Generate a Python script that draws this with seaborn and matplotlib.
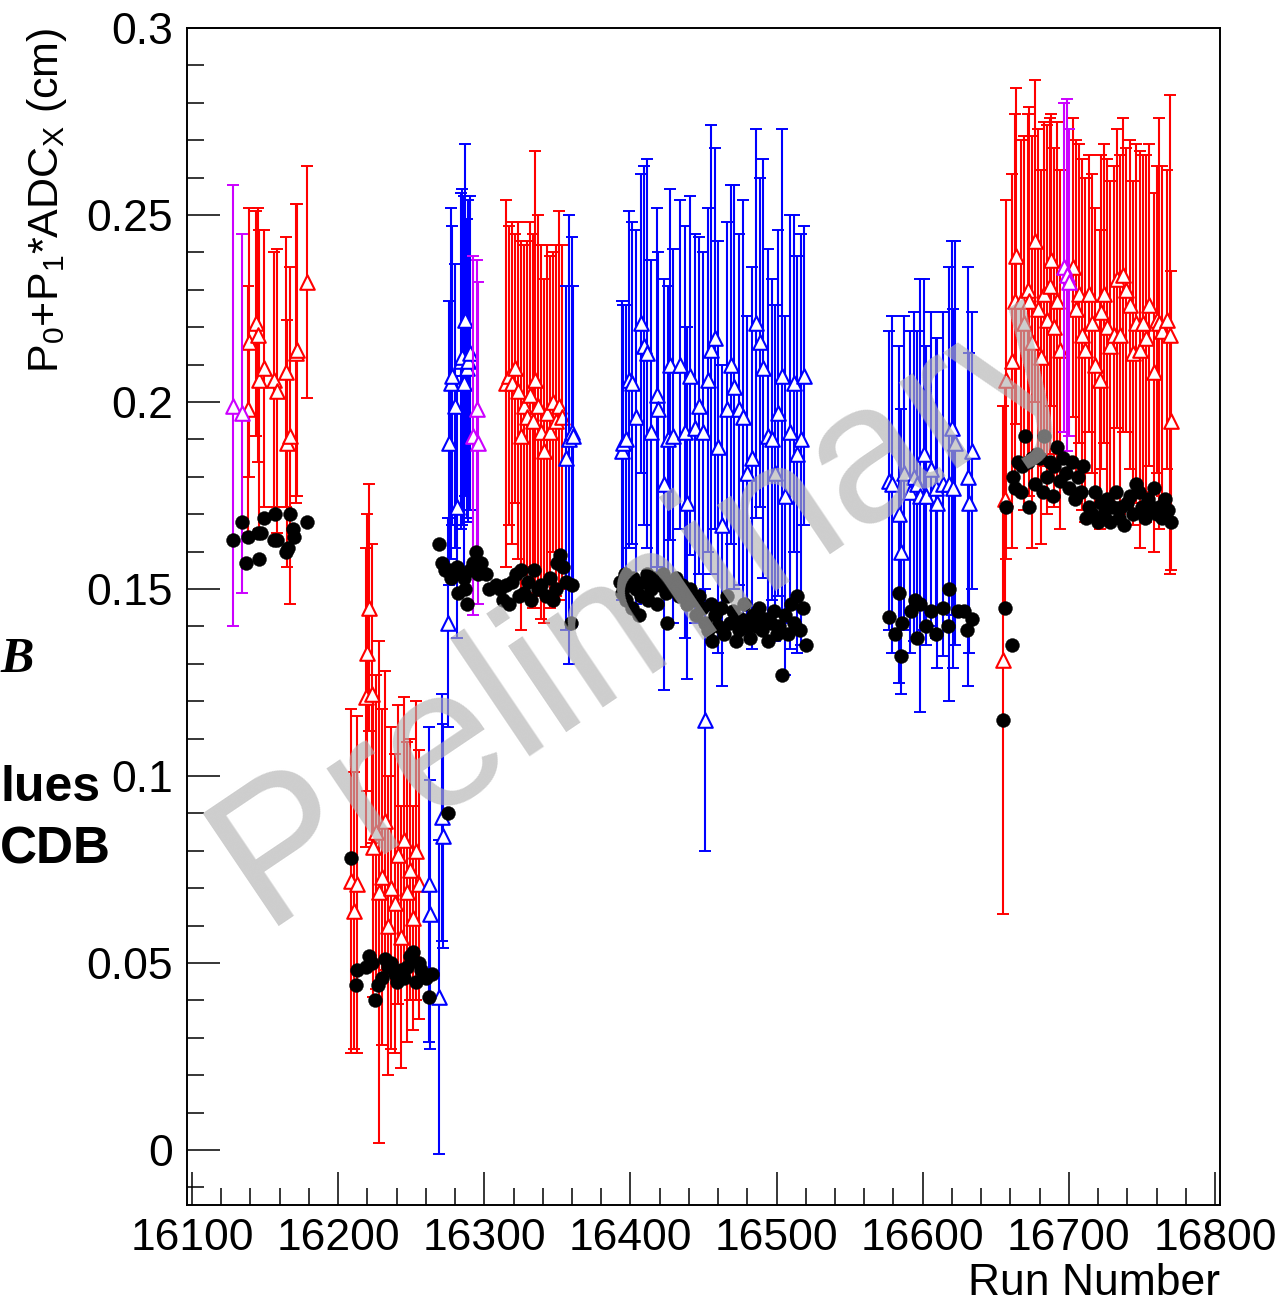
import numpy as np
import pandas as pd
import matplotlib
matplotlib.use("Agg")
import matplotlib.pyplot as plt
import seaborn as sns
from matplotlib.ticker import MultipleLocator, FuncFormatter

# ---------------- data ----------------
# period 1
p1_runs = [16128, 16134, 16138, 16139, 16144, 16145, 16146, 16149, 16156, 16158, 16164, 16165, 16167, 16171, 16172, 16179]
p1_meas = [0.199, 0.197, 0.198, 0.216, 0.221, 0.218, 0.206, 0.209, 0.206, 0.203, 0.208, 0.189, 0.191, 0.213, 0.214, 0.232]
p1_err = [0.059, 0.048, 0.033, 0.036, 0.030, 0.034, 0.040, 0.037, 0.034, 0.038, 0.036, 0.033, 0.045, 0.040, 0.039, 0.031]
p1_col = "mmrrrrrrrrrrrrrr"
p1_ccdb_runs = [16128, 16134, 16137, 16138, 16145, 16146, 16147, 16149, 16156, 16157, 16158, 16164, 16166, 16167, 16169, 16170, 16179]
p1_ccdb = [0.163, 0.168, 0.157, 0.164, 0.165, 0.158, 0.165, 0.169, 0.163, 0.170, 0.163, 0.160, 0.161, 0.170, 0.166, 0.164, 0.168]

# period 2
p2_runs = [16209, 16211, 16213, 16219, 16220, 16221, 16223, 16224, 16226, 16228, 16230, 16232, 16234, 16236,
           16239, 16241, 16243, 16245, 16247, 16249, 16251, 16253, 16255, 16262, 16263, 16269, 16271, 16272]
p2_meas = [0.072, 0.064, 0.071, 0.121, 0.133, 0.145, 0.122, 0.081, 0.085, 0.069, 0.073, 0.088, 0.060, 0.070,
           0.066, 0.079, 0.057, 0.083, 0.069, 0.075, 0.062, 0.080, 0.071, 0.071, 0.063, 0.041, 0.089, 0.084]
p2_err = [0.046, 0.037, 0.045, 0.040, 0.037, 0.033, 0.040, 0.040, 0.042, 0.067, 0.045, 0.040, 0.040, 0.043,
          0.040, 0.040, 0.035, 0.038, 0.040, 0.035, 0.030, 0.040, 0.036, 0.042, 0.036, 0.042, 0.033, 0.030]
p2_col = "rrrrrrrrrrrrrrrrrrrrrrrbbbbb"
p2_ccdb_runs = [16209, 16212, 16213, 16219, 16221, 16223, 16225, 16227, 16230, 16232, 16234, 16236, 16239,
                16240, 16243, 16245, 16247, 16249, 16251, 16253, 16255, 16257, 16260, 16262, 16264, 16275]
p2_ccdb = [0.078, 0.044, 0.048, 0.049, 0.052, 0.050, 0.040, 0.044, 0.046, 0.051, 0.049, 0.050, 0.047,
           0.045, 0.048, 0.046, 0.049, 0.052, 0.053, 0.045, 0.050, 0.048, 0.046, 0.041, 0.047, 0.090]

# period 3
p3_runs = [16275, 16276, 16277, 16278, 16280, 16281, 16284, 16285, 16286, 16287, 16288, 16289, 16290,
           16292, 16295, 16296,
           16315, 16317, 16319, 16321, 16323, 16325, 16327, 16329, 16331, 16333, 16335, 16337, 16339, 16341,
           16343, 16345, 16347, 16349, 16351, 16353,
           16356, 16358, 16360, 16361]
p3_meas = [0.141, 0.189, 0.205, 0.207, 0.199, 0.172, 0.211, 0.212, 0.205, 0.222, 0.209, 0.211, 0.213,
           0.191, 0.198, 0.189,
           0.205, 0.207, 0.205, 0.209, 0.203, 0.191, 0.199, 0.196, 0.202, 0.195, 0.206, 0.199, 0.192, 0.187,
           0.197, 0.192, 0.200, 0.195, 0.199, 0.196,
           0.185, 0.190, 0.192, 0.191]
p3_err = [0.028, 0.038, 0.047, 0.040, 0.038, 0.035, 0.045, 0.045, 0.050, 0.047, 0.040, 0.043, 0.042,
          0.048, 0.040, 0.043,
          0.049, 0.040, 0.043, 0.036, 0.045, 0.052, 0.043, 0.047, 0.046, 0.050, 0.061, 0.051, 0.050, 0.046,
          0.045, 0.047, 0.040, 0.047, 0.052, 0.046,
          0.046, 0.060, 0.052, 0.040]
p3_col = "bbbbbbbbbbbbb" "mmm" "rrrrrrrrrrrrrrrrrrrr" "bbbb"
p3_ccdb_runs = [16269, 16271, 16273, 16276, 16277, 16279, 16281, 16282, 16284, 16286, 16287, 16288, 16290,
                16292, 16294, 16296, 16298, 16301, 16303, 16308, 16311, 16313, 16315, 16317, 16319, 16322,
                16324, 16325, 16327, 16330, 16332, 16334, 16337, 16339, 16342, 16345, 16347, 16349, 16350,
                16352, 16354, 16356, 16359, 16360]
p3_ccdb = [0.162, 0.157, 0.155, 0.155, 0.153, 0.155, 0.156, 0.149, 0.154, 0.153, 0.150, 0.146, 0.155,
           0.157, 0.160, 0.154, 0.157, 0.154, 0.150, 0.151, 0.150, 0.147, 0.151, 0.146, 0.152, 0.154,
           0.148, 0.155, 0.149, 0.152, 0.147, 0.155, 0.150, 0.151, 0.148, 0.153, 0.147, 0.150, 0.157,
           0.159, 0.156, 0.152, 0.141, 0.151]

# period 4
p4_runs = [16394, 16395, 16397, 16399, 16401, 16404, 16407, 16409, 16411, 16414,
           16418, 16419, 16423, 16426, 16427, 16429, 16434, 16437, 16439, 16441,
           16444, 16447, 16450, 16451, 16453, 16455, 16458, 16460, 16463, 16466,
           16469, 16471, 16474, 16477, 16480, 16483, 16486, 16489, 16491, 16494,
           16497, 16499, 16501, 16504, 16506, 16509, 16512, 16514, 16517, 16519]
p4_meas = [0.187, 0.189, 0.190, 0.206, 0.205, 0.196, 0.221, 0.215, 0.213, 0.192,
           0.202, 0.198, 0.178, 0.190, 0.210, 0.191, 0.210, 0.192, 0.173, 0.207,
           0.193, 0.199, 0.192, 0.115, 0.206, 0.214, 0.217, 0.188, 0.167, 0.198,
           0.210, 0.204, 0.198, 0.196, 0.181, 0.185, 0.221, 0.216, 0.209, 0.191,
           0.190, 0.181, 0.197, 0.207, 0.175, 0.192, 0.205, 0.186, 0.190, 0.207]
p4_err = [0.040, 0.037, 0.036, 0.045, 0.043, 0.050, 0.040, 0.048, 0.052, 0.046,
          0.050, 0.042, 0.055, 0.041, 0.047, 0.050, 0.044, 0.055, 0.047, 0.048,
          0.052, 0.045, 0.048, 0.035, 0.046, 0.060, 0.051, 0.055, 0.043, 0.050,
          0.048, 0.054, 0.047, 0.058, 0.042, 0.051, 0.052, 0.044, 0.056, 0.050,
          0.043, 0.045, 0.049, 0.066, 0.048, 0.058, 0.045, 0.053, 0.055, 0.040]
p4_col = "bbbbbbbbbbbbbbbbbbbbbbbbbbbbbbbbbbbbbbbbbbbbbbbbbb"
p4_ccdb_runs = [16393, 16394, 16396, 16397, 16399, 16401, 16402, 16404, 16406, 16407,
                16409, 16411, 16412, 16414, 16416, 16418, 16420, 16422, 16424, 16425,
                16427, 16429, 16431, 16433, 16435, 16437, 16439, 16441, 16443, 16445,
                16447, 16449, 16451, 16453, 16455, 16456, 16458, 16460, 16462, 16464,
                16466, 16468, 16470, 16472, 16474, 16476, 16478, 16480, 16482, 16484,
                16486, 16488, 16490, 16492, 16494, 16496, 16498, 16500, 16502, 16504,
                16506, 16508, 16510, 16512, 16514, 16516, 16518, 16520]
p4_ccdb = [0.152, 0.149, 0.154, 0.147, 0.151, 0.145, 0.153, 0.150, 0.143, 0.148,
           0.152, 0.154, 0.147, 0.150, 0.153, 0.146, 0.151, 0.154, 0.149, 0.141,
           0.152, 0.150, 0.153, 0.148, 0.151, 0.149, 0.146, 0.150, 0.147, 0.143,
           0.148, 0.145, 0.141, 0.139, 0.146, 0.136, 0.143, 0.140, 0.145, 0.138,
           0.148, 0.141, 0.144, 0.136, 0.139, 0.142, 0.146, 0.140, 0.137, 0.143,
           0.140, 0.145, 0.139, 0.142, 0.136, 0.141, 0.144, 0.138, 0.140, 0.127,
           0.143, 0.138, 0.146, 0.141, 0.148, 0.139, 0.145, 0.135]

# period 5
p5_runs = [16577, 16579, 16584, 16585, 16587, 16591, 16594, 16596, 16598, 16601, 16602,
           16606, 16609, 16610, 16614, 16618, 16620, 16621, 16622, 16631, 16632, 16634]
p5_meas = [0.179, 0.178, 0.170, 0.160, 0.181, 0.176, 0.180, 0.178, 0.175, 0.186, 0.175,
           0.182, 0.177, 0.173, 0.178, 0.178, 0.193, 0.177, 0.189, 0.180, 0.173, 0.187]
p5_err = [0.040, 0.045, 0.045, 0.038, 0.042, 0.043, 0.044, 0.041, 0.058, 0.047, 0.040,
          0.042, 0.040, 0.044, 0.046, 0.058, 0.050, 0.048, 0.054, 0.056, 0.040, 0.037]
p5_col = "bbbbbbbbbbbbbbbbbbbbbb"
p5_ccdb_runs = [16577, 16581, 16584, 16585, 16586, 16592, 16595, 16596, 16598, 16602,
                16606, 16609, 16614, 16617, 16618, 16624, 16628, 16630, 16634]
p5_ccdb = [0.1425, 0.138, 0.149, 0.132, 0.141, 0.144, 0.147, 0.137, 0.146, 0.140,
           0.144, 0.138, 0.145, 0.140, 0.150, 0.144, 0.144, 0.139, 0.142]

# period 6
p6_runs = [16655, 16656, 16657, 16661, 16663, 16664, 16667, 16669, 16672, 16673,
           16675, 16677, 16679, 16681, 16683, 16685, 16687, 16688, 16690, 16692,
           16694, 16697, 16699, 16700, 16703, 16705, 16707, 16709, 16711, 16714,
           16716, 16718, 16721, 16722, 16724, 16726, 16728, 16731, 16733, 16735,
           16737, 16739, 16742, 16744, 16746, 16749, 16751, 16753, 16755, 16758,
           16760, 16762, 16764, 16767, 16769, 16770]
p6_meas = [0.131, 0.174, 0.206, 0.211, 0.227, 0.239, 0.227, 0.221, 0.230, 0.227,
           0.216, 0.243, 0.225, 0.212, 0.229, 0.222, 0.231, 0.238, 0.220, 0.227,
           0.214, 0.236, 0.234, 0.232, 0.236, 0.225, 0.229, 0.218, 0.214, 0.229,
           0.221, 0.210, 0.206, 0.224, 0.229, 0.220, 0.215, 0.218, 0.233, 0.218,
           0.234, 0.230, 0.226, 0.213, 0.221, 0.214, 0.221, 0.217, 0.226, 0.208,
           0.222, 0.221, 0.219, 0.222, 0.218, 0.195]
p6_err = [0.068, 0.030, 0.048, 0.050, 0.050, 0.045, 0.043, 0.050, 0.047, 0.052,
          0.055, 0.043, 0.048, 0.050, 0.046, 0.052, 0.045, 0.039, 0.048, 0.048,
          0.048, 0.044, 0.047, 0.041, 0.040, 0.045, 0.040, 0.047, 0.046, 0.037,
          0.040, 0.042, 0.040, 0.042, 0.040, 0.045, 0.044, 0.045, 0.040, 0.048,
          0.042, 0.038, 0.044, 0.046, 0.048, 0.053, 0.045, 0.049, 0.043, 0.048,
          0.041, 0.055, 0.044, 0.040, 0.064, 0.040]
p6_col = "rrrrrrrrrrrrrrrrrrrrr" "mmm" "rrrrrrrrrrrrrrrrrrrrrrrrrrrrrrrr"
p6_ccdb_runs = [16655, 16656, 16657, 16661, 16662, 16663, 16665, 16667, 16668, 16670,
                16672, 16673, 16675, 16677, 16678, 16680, 16682, 16683, 16685, 16687,
                16689, 16690, 16692, 16694, 16696, 16698, 16700, 16702, 16704, 16706,
                16708, 16710, 16712, 16714, 16716, 16718, 16720, 16722, 16724, 16726,
                16728, 16730, 16732, 16734, 16736, 16738, 16740, 16742, 16744, 16746,
                16748, 16750, 16752, 16754, 16756, 16758, 16760, 16762, 16764, 16766,
                16768, 16770]
p6_ccdb = [0.115, 0.145, 0.172, 0.135, 0.180, 0.177, 0.184, 0.176, 0.183, 0.191,
           0.184, 0.172, 0.185, 0.178, 0.186, 0.185, 0.176, 0.191, 0.180, 0.184,
           0.175, 0.183, 0.188, 0.179, 0.185, 0.181, 0.177, 0.184, 0.174, 0.180,
           0.176, 0.183, 0.169, 0.172, 0.170, 0.176, 0.168, 0.173, 0.170, 0.174,
           0.168, 0.172, 0.176, 0.169, 0.172, 0.167, 0.173, 0.175, 0.170, 0.178,
           0.176, 0.172, 0.169, 0.174, 0.172, 0.177, 0.170, 0.172, 0.169, 0.174,
           0.171, 0.168]

x_ticks = [16100, 16200, 16300, 16400, 16500, 16600, 16700, 16800]
y_ticks = [0.0, 0.05, 0.1, 0.15, 0.2, 0.25, 0.3]

# ---------------- tables ----------------
meas_df = pd.DataFrame({
    "run": p1_runs + p2_runs + p3_runs + p4_runs + p5_runs + p6_runs,
    "meas": p1_meas + p2_meas + p3_meas + p4_meas + p5_meas + p6_meas,
    "err": p1_err + p2_err + p3_err + p4_err + p5_err + p6_err,
    "color": list(p1_col + p2_col + p3_col + p4_col + p5_col + p6_col),
})
ccdb_df = pd.DataFrame({
    "run": p1_ccdb_runs + p2_ccdb_runs + p3_ccdb_runs + p4_ccdb_runs + p5_ccdb_runs + p6_ccdb_runs,
    "val": p1_ccdb + p2_ccdb + p3_ccdb + p4_ccdb + p5_ccdb + p6_ccdb,
})

# ---------------- style ----------------
sns.set_theme(style="ticks")
plt.rcParams["font.family"] = ["Liberation Sans", "DejaVu Sans"]
plt.rcParams["text.color"] = "black"
plt.rcParams["axes.labelcolor"] = "black"
plt.rcParams["xtick.color"] = "black"
plt.rcParams["ytick.color"] = "black"
plt.rcParams["mathtext.fontset"] = "custom"
plt.rcParams["mathtext.rm"] = "Liberation Sans"
plt.rcParams["mathtext.it"] = "Liberation Sans:italic"
plt.rcParams["mathtext.bf"] = "Liberation Sans:bold"
plt.rcParams["mathtext.default"] = "regular"

fig = plt.figure(figsize=(12.85, 13.08), dpi=100)
fig.patch.set_facecolor("white")
ax = fig.add_axes([187 / 1285, 103 / 1308, 1033 / 1285, 1177 / 1308])
ax.set_facecolor("white")

palette = {"r": "#ff0000", "b": "#0000ff", "m": "#cc00ff"}
layer = {"r": 2, "b": 4, "m": 6}
for code in ["r", "b", "m"]:
    sub = meas_df[meas_df["color"] == code]
    ax.errorbar(sub["run"], sub["meas"], yerr=sub["err"], fmt="none",
                ecolor=palette[code], elinewidth=1.5, capsize=4, capthick=1.4,
                zorder=layer[code])
    sns.scatterplot(data=sub, x="run", y="meas", marker="^", s=110,
                    color="white", edgecolor=palette[code], linewidth=1.5,
                    ax=ax, zorder=layer[code] + 1, legend=False)

sns.scatterplot(data=ccdb_df, x="run", y="val", marker="o", s=100,
                color="black", edgecolor="black", linewidth=0.3,
                ax=ax, zorder=10, legend=False)

ax.set_xlim(16096.6, 16803.4)
ax.set_ylim(-0.0147, 0.3)
ax.set_xticks(x_ticks)
ax.set_yticks(y_ticks)
ax.xaxis.set_minor_locator(MultipleLocator(20))
ax.yaxis.set_minor_locator(MultipleLocator(0.01))
ax.yaxis.set_major_formatter(FuncFormatter(lambda v, p: f"{round(v, 3):g}"))
ax.xaxis.set_major_formatter(FuncFormatter(lambda v, p: f"{int(round(v))}"))

ax.tick_params(axis="both", which="major", direction="in", length=24, width=1.1,
               labelsize=32, top=False, right=False, color="black", labelcolor="black")
ax.tick_params(axis="both", which="minor", direction="in", length=12, width=1.1,
               top=False, right=False, color="black")
ax.tick_params(axis="x", which="major", pad=9)
ax.tick_params(axis="y", which="major", pad=10)
for sp in ax.spines.values():
    sp.set_visible(True)
    sp.set_linewidth(1.4)
    sp.set_color("black")

ax.set_xlabel("Run Number", fontsize=32, loc="right", color="black")
ax.xaxis.set_label_coords(1.0, -0.049)
ax.set_ylabel(r"P$_0$+P$_1$*ADC$_X$ (cm)", fontsize=31, loc="top", color="black")
ax.yaxis.set_label_coords(-0.114, 1.0)

# watermark
fig.text(0.523, 0.503, "Preliminary", fontsize=142, color="0.7", alpha=0.65,
         rotation=34, rotation_mode="anchor", ha="center", va="baseline", zorder=20)

# cut-off text from the neighbouring slide
fig.text(0.0, 1 - 672 / 1308, "B", fontsize=36, fontweight="bold", style="italic", color="black",
         family=["Liberation Serif", "DejaVu Serif"], ha="left", va="baseline")
fig.text(0.0, 1 - 801 / 1308, "lues", fontsize=36, fontweight="bold", color="black",
         ha="left", va="baseline")
fig.text(0.0, 1 - 864 / 1308, "CDB", fontsize=37, fontweight="bold", color="black",
         ha="left", va="baseline")

fig.savefig("out.png", dpi=100, facecolor="white")
